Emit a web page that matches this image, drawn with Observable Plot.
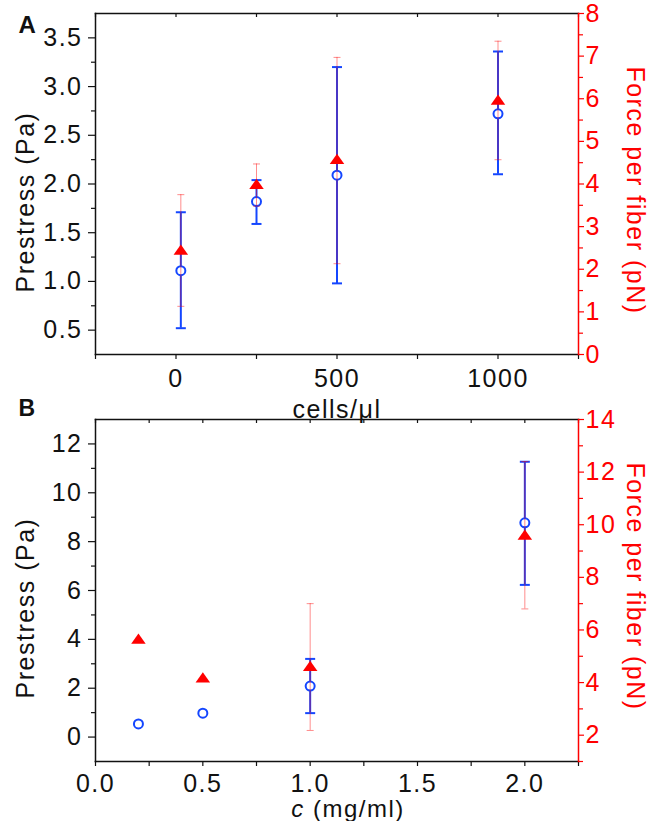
<!DOCTYPE html>
<html><head><meta charset="utf-8">
<script src="https://cdn.jsdelivr.net/npm/d3@7"></script>
<script src="https://cdn.jsdelivr.net/npm/@observablehq/plot@0.6"></script>
<style>html,body{margin:0;padding:0;background:#fff;} #chart{position:relative;width:651px;height:821px;}</style>
</head><body><div id="chart"></div>
<script>
// ---------- Panel A data ----------
const cellsA = [15, 250, 500, 1000];
const prestressA = [1.11, 1.82, 2.09, 2.72];
const prestressLoA = [0.52, 1.59, 0.98, 2.10];
const prestressHiA = [1.71, 2.04, 3.20, 3.36];
const forceA = [2.42, 3.96, 4.55, 5.94];
const forceLoA = [1.13, 3.48, 2.13, 4.57];
const forceHiA = [3.75, 4.47, 6.97, 7.35];

// ---------- Panel B data ----------
const concB = [0.2, 0.5, 1.0, 2.0];
const prestressB = [0.54, 0.98, 2.09, 8.77];
const prestressLoB = [null, null, 0.98, 6.23];
const prestressHiB = [null, null, 3.20, 11.27];
const forceB = [5.61, 4.13, 4.57, 9.56];
const forceLoB = [null, null, 2.18, 6.80];
const forceHiB = [null, null, 7.00, 12.40];

// ---------- ticks ----------
const xMajA = [0, 500, 1000], xMinA = [-250, 250, 750, 1250];
const yMajA = [0.5, 1.0, 1.5, 2.0, 2.5, 3.0, 3.5], yMinA = [0.75, 1.25, 1.75, 2.25, 2.75, 3.25];
const rMajA = [0, 1, 2, 3, 4, 5, 6, 7, 8], rMinA = [0.5, 1.5, 2.5, 3.5, 4.5, 5.5, 6.5, 7.5];
const xMajB = [0, 0.5, 1.0, 1.5, 2.0], xMinB = [0.25, 0.75, 1.25, 1.75, 2.25];
const yMajB = [0, 2, 4, 6, 8, 10, 12], yMinB = [1, 3, 5, 7, 9, 11];
const rMajB = [2, 4, 6, 8, 10, 12, 14], rMinB = [1, 3, 5, 7, 9, 11, 13];

const W = 651, ML = 95, MR = 73;
const blue = "#1446ff", red = "#ff0000", ink = "#111";

function rows(xs, ys, lo, hi) { return xs.map((x, i) => ({x, y: ys[i], lo: lo[i], hi: hi[i]})); }
const cap = {draw(ctx, size) { const w = Math.sqrt(size / Math.PI); ctx.moveTo(-w, 0); ctx.lineTo(w, 0); }};
const tri = {draw(ctx, size) { const r = Math.sqrt(size / Math.PI); const w = 1.45 * r, h = 2.05 * r;
  ctx.moveTo(0, -2 * h / 3); ctx.lineTo(w, h / 3); ctx.lineTo(-w, h / 3); ctx.closePath(); }};

function baseStyle(top) {
  return {position: "absolute", left: "0px", top: top + "px", background: "transparent", overflow: "visible",
    fontFamily: "'Liberation Sans', Arial, sans-serif", fontSize: "25px", letterSpacing: "1.5px", maxWidth: "none"};
}

function leftPanel(c) {
  const fh = c.height - c.mt - c.mb;
  const data = rows(c.xs, c.ys, c.lo, c.hi);
  const bars = data.filter(d => d.lo != null);
  return Plot.plot({
    width: W, height: c.height, marginLeft: ML, marginRight: MR, marginTop: c.mt, marginBottom: c.mb,
    x: {domain: c.xDomain}, y: {domain: c.yDomain},
    style: baseStyle(c.top),
    marks: [
      Plot.frame({anchor: "top", stroke: ink, strokeWidth: 1.5}),
      Plot.frame({anchor: "left", stroke: ink, strokeWidth: 1.5}),
      Plot.frame({anchor: "bottom", stroke: ink, strokeWidth: 1.5}),
      Plot.ruleX([...c.xMaj, ...c.xMin], {x: d => d, insetBottom: fh - 4, stroke: ink, strokeWidth: 1.2}),
      Plot.axisX({ticks: c.xMaj, tickSize: 5, tickPadding: c.xPad, tickFormat: c.xFmt, label: null, stroke: ink, fill: ink, strokeWidth: 1.2}),
      Plot.axisX({ticks: c.xMin, tickSize: 5, tickFormat: () => "", label: null, stroke: ink, strokeWidth: 1.2}),
      Plot.axisY({ticks: c.yMaj, tickSize: 7, tickPadding: 6, tickFormat: c.yFmt, label: null, stroke: ink, fill: ink, strokeWidth: 1.2}),
      Plot.axisY({ticks: c.yMin, tickSize: 4, tickFormat: () => "", label: null, stroke: ink, strokeWidth: 1.2}),
      Plot.ruleX(bars, {x: "x", y1: "lo", y2: "hi", stroke: blue, strokeWidth: 2}),
      Plot.dot(bars, {x: "x", y: "lo", symbol: cap, r: 5, stroke: blue, strokeWidth: 2, fill: "none"}),
      Plot.dot(bars, {x: "x", y: "hi", symbol: cap, r: 5, stroke: blue, strokeWidth: 2, fill: "none"}),
      Plot.dot(data, {x: "x", y: "y", r: 4.5, stroke: blue, strokeWidth: 2, fill: "white"}),
      Plot.text([c.yLabel], {text: d => d, frameAnchor: "left", textAnchor: "middle", lineAnchor: "middle", dx: -70, dy: c.yLabelDy, rotate: -90, fontSize: 25, fill: ink}),
      Plot.text([c.xLabel], {text: d => d, frameAnchor: "bottom", textAnchor: "middle", lineAnchor: "middle", dx: c.xLabelDx, dy: c.xLabelDy, fontSize: c.xLabelSize, fill: ink}),
      Plot.text([c.tag], {text: d => d, frameAnchor: "top-left", dx: -77, dy: c.tagDy, textAnchor: "start", lineAnchor: "middle", fontWeight: "bold", fontSize: c.tagSize, fill: ink})
    ]
  });
}

function rightPanel(c) {
  const data = rows(c.xs, c.ys, c.lo, c.hi);
  const bars = data.filter(d => d.lo != null);
  return Plot.plot({
    width: W, height: c.height, marginLeft: ML, marginRight: MR, marginTop: c.mt, marginBottom: c.mb,
    x: {domain: c.xDomain, axis: null}, y: {domain: c.rDomain},
    style: baseStyle(c.top),
    marks: [
      Plot.frame({anchor: "right", stroke: red, strokeWidth: 1.5}),
      Plot.axisY({anchor: "right", ticks: c.rMaj, tickSize: 5, tickPadding: 2, tickFormat: d3.format("d"), label: null, stroke: red, fill: red, strokeWidth: 1.2}),
      Plot.axisY({anchor: "right", ticks: c.rMin, tickSize: 4, tickFormat: () => "", label: null, stroke: red, strokeWidth: 1.2}),
      Plot.ruleX(bars, {x: "x", y1: "lo", y2: "hi", stroke: red, strokeOpacity: 0.45, strokeWidth: 1}),
      Plot.dot(bars, {x: "x", y: "lo", symbol: cap, r: 3.5, stroke: red, strokeOpacity: 0.45, strokeWidth: 1, fill: "none"}),
      Plot.dot(bars, {x: "x", y: "hi", symbol: cap, r: 3.5, stroke: red, strokeOpacity: 0.45, strokeWidth: 1, fill: "none"}),
      Plot.dot(data, {x: "x", y: "y", symbol: tri, r: 5, fill: red, stroke: "none"}),
      Plot.text([c.rLabel], {text: d => d, frameAnchor: "right", textAnchor: "middle", lineAnchor: "middle", dx: 56, dy: c.rLabelDy, rotate: 90, fontSize: 25, fill: red})
    ]
  });
}

const chart = document.getElementById("chart");

const A = {top: 0, height: 410, mt: 13, mb: 56, xDomain: [-250, 1250]};
chart.append(leftPanel({...A, yDomain: [0.25, 3.75], xs: cellsA, ys: prestressA, lo: prestressLoA, hi: prestressHiA,
  xMaj: xMajA, xMin: xMinA, yMaj: yMajA, yMin: yMinA, xFmt: d3.format("d"), yFmt: d3.format(".1f"), xPad: 10,
  yLabel: "Prestress (Pa)", yLabelDy: 18, xLabel: "cells/\u03bcl", xLabelDx: 0, xLabelDy: 55, xLabelSize: 25, tag: "A", tagDy: 12, tagSize: 24}));
chart.append(rightPanel({...A, rDomain: [0, 8], xs: cellsA, ys: forceA, lo: forceLoA, hi: forceHiA,
  rMaj: rMajA, rMin: rMinA, rLabel: "Force per fiber (pN)", rLabelDy: 6.5}));

const B = {top: 410, height: 411, mt: 9, mb: 60, xDomain: [0, 2.25]};
const bLeft = leftPanel({...B, yDomain: [-1, 13], xs: concB, ys: prestressB, lo: prestressLoB, hi: prestressHiB,
  xMaj: xMajB, xMin: xMinB, yMaj: yMajB, yMin: yMinB, xFmt: d3.format(".1f"), yFmt: d3.format("d"), xPad: 8,
  yLabel: "Prestress (Pa)", yLabelDy: 17.5, xLabel: "c (mg/ml)", xLabelDx: 11, xLabelDy: 48, xLabelSize: 24, tag: "B", tagDy: -10.4, tagSize: 23});
chart.append(bLeft);
chart.append(rightPanel({...B, rDomain: [1, 14], xs: concB, ys: forceB, lo: forceLoB, hi: forceHiB,
  rMaj: rMajB, rMin: rMinB, rLabel: "Force per fiber (pN)", rLabelDy: -4}));

// italic "c" in the x label of panel B
bLeft.querySelectorAll("text").forEach(t => {
  if (t.textContent === "c (mg/ml)") {
    t.textContent = "";
    const ns = "http://www.w3.org/2000/svg";
    const a = document.createElementNS(ns, "tspan"); a.setAttribute("font-style", "italic"); a.textContent = "c";
    const b = document.createElementNS(ns, "tspan"); b.textContent = "\u00a0(mg/ml)";
    t.append(a, b);
  }
});
</script></body></html>
